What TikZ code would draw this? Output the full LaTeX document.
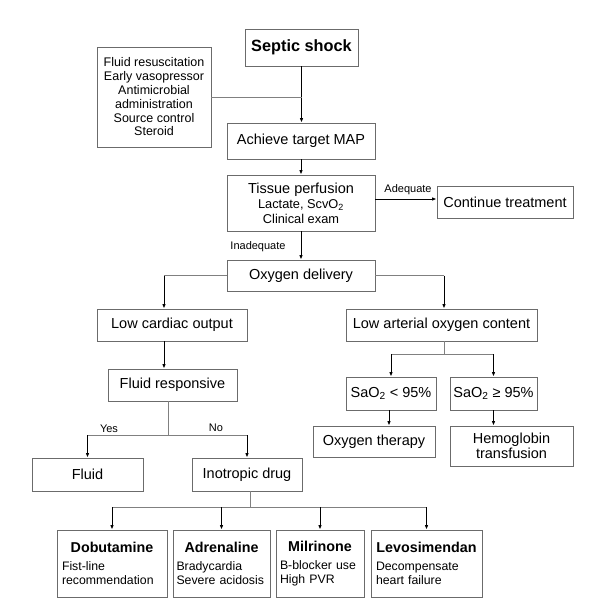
\documentclass[tikz,border=0pt]{standalone}
\usepackage{fontspec}
\setmainfont{Liberation Sans}
\usetikzlibrary{arrows.meta}
\definecolor{boxgray}{gray}{0.42}
\definecolor{linegray}{gray}{0.5}
\newcommand{\drugtitle}[1]{\hskip0pt plus 1fill{\fontsize{14.3}{16}\selectfont\bfseries #1}\hskip0pt plus 1fill\null}
\newcommand{\nohyph}{\hyphenpenalty=10000\relax\exhyphenpenalty=10000\relax}
\begin{document}
\begin{tikzpicture}[x=1pt,y=-1pt,
  box/.style={draw=boxgray, line width=0.9pt, inner sep=0pt, align=center,
    font=\fontsize{14.5}{16}\selectfont},
  drug/.style={draw=boxgray, line width=0.9pt, inner xsep=5pt, inner ysep=0pt,
    align=left, minimum height=67pt,
    font=\fontsize{12.3}{14.2}\selectfont\nohyph},
  arr/.style={line width=1pt, -{Latex[length=4.5pt,width=3.6pt]}},
  gline/.style={draw=linegray, line width=0.9pt},
  lab/.style={font=\fontsize{11}{13}\selectfont, inner sep=0pt}]
\useasboundingbox (0,0) rectangle (594,602);
\fill[white] (0,0) rectangle (594,602);

% nodes
\node[box, minimum width=113pt, minimum height=37pt, font=\fontsize{16.3}{18}\selectfont\bfseries]
  (septic) at (301.5,47.5) {Septic shock};
\node[box, minimum width=114pt, minimum height=100pt, font=\fontsize{12.5}{13.8}\selectfont]
  (list) at (154,97) {Fluid resuscitation\\Early vasopressor\\Antimicrobial\\administration\\Source control\\Steroid};
\node[box, minimum width=148pt, minimum height=36pt] (map) at (301,141) {Achieve target MAP};
\node[box, minimum width=148pt, minimum height=56pt] (tissue) at (301,203)
  {Tissue perfusion\\[-1pt]{\fontsize{12.8}{13.5}\selectfont Lactate, ScvO\textsubscript{2}}\\[-1pt]{\fontsize{12.8}{13.5}\selectfont Clinical exam}};
\node[box, minimum width=136pt, minimum height=32pt] (cont) at (505,202) {Continue treatment};
\node[box, minimum width=148pt, minimum height=31pt] (oxy) at (301,275.5) {Oxygen delivery};
\node[box, minimum width=150pt, minimum height=32pt] (lco) at (172,325) {Low cardiac output};
\node[box, minimum width=191pt, minimum height=32pt] (lac) at (441.5,325) {Low arterial oxygen content};
\node[box, minimum width=129pt, minimum height=32pt] (fr) at (172.5,385) {Fluid responsive};
\node[box, minimum width=90pt, minimum height=33pt] (sa1) at (391,393.5) {SaO\textsubscript{2} < 95\%};
\node[box, minimum width=87pt, minimum height=33pt] (sa2) at (493.5,393.5) {SaO\textsubscript{2} ≥ 95\%};
\node[box, minimum width=122pt, minimum height=31pt] (ot) at (374,441.5) {Oxygen therapy};
\node[box, minimum width=123pt, minimum height=40pt, font=\fontsize{14.5}{15.5}\selectfont]
  (hb) at (511.5,446) {Hemoglobin\\transfusion};
\node[box, minimum width=111pt, minimum height=33pt] (fluid) at (87.5,474.5) {Fluid};
\node[box, minimum width=110pt, minimum height=33pt] (ino) at (247,474.5) {Inotropic drug};

\node[drug, text width=100pt] (dob) at (112,563.5)
  {\drugtitle{Dobutamine}\\[3.5pt]Fist-line\\recommendation};
\node[drug, inner xsep=3.5pt, text width=90pt] (adr) at (221.5,563.5)
  {\drugtitle{Adrenaline}\\[3.5pt]Bradycardia\\Severe acidosis};
\node[drug, inner xsep=4pt, text width=80pt] (mil) at (320,563.5)
  {\drugtitle{Milrinone}\\[3.5pt]B-blocker use\\High PVR};
\node[drug, text width=101pt] (lev) at (426.5,563.5)
  {\drugtitle{Levosimendan}\\[3.5pt]Decompensate\\heart failure};

% labels
\node[lab] (adeq) at (408,190) {Adequate};
\node[lab] (inadeq) at (258,247) {Inadequate};
\node[lab] (yes) at (109,429) {Yes};
\node[lab] (no) at (216,428) {No};

% coordinates
\coordinate (frj) at ([xshift=-4.5pt,yshift=-34pt]fr.south);
\coordinate (inoj) at ([xshift=3pt,yshift=-16pt]ino.south);
\coordinate (lacj) at ([xshift=2.5pt,yshift=-13pt]lac.south);

% connectors
\draw[arr] (septic.south) -- (septic.south |- map.north);
\draw[gline] (list.east) -- (list.east -| septic.south);
\draw[arr] (map.south) -- (tissue.north);
\draw[arr] ([yshift=4pt]tissue.east) -- ([yshift=4pt]tissue.east -| cont.west);
\draw[arr] (tissue.south) -- (oxy.north);

\draw[gline] (oxy.west) -- (oxy.west -| lco.north) -- ([xshift=-8pt]oxy.west -| lco.north);
\draw[arr] ([xshift=-8pt]oxy.west -| lco.north) -- ([xshift=-8pt]lco.north);
\draw[gline] (oxy.east) -- ([xshift=2.5pt]oxy.east -| lac.north);
\draw[arr] ([xshift=2.5pt]oxy.east -| lac.north) -- ([xshift=2.5pt]lac.north);

\draw[arr] ([xshift=-8pt]lco.south) -- ([xshift=-8pt]lco.south |- fr.north);

\draw[gline] ([xshift=-4.5pt]fr.south) -- (frj);
\draw[gline] (frj -| fluid.north) -- (frj -| ino.north);
\draw[arr] (frj -| fluid.north) -- (fluid.north);
\draw[arr] (frj -| ino.north) -- (ino.north);

\draw[gline] ([xshift=3pt]ino.south) -- (inoj);
\draw[gline] (inoj -| dob.north) -- (inoj -| lev.north);
\draw[arr] (inoj -| dob.north) -- (dob.north);
\draw[arr] (inoj -| adr.north) -- (adr.north);
\draw[arr] (inoj -| mil.north) -- (mil.north);
\draw[arr] (inoj -| lev.north) -- (lev.north);

\draw[gline] ([xshift=2.5pt]lac.south) -- (lacj);
\draw[gline] (lacj -| sa1.north) -- (lacj -| sa2.north);
\draw[arr] (lacj -| sa1.north) -- (sa1.north);
\draw[arr] (lacj -| sa2.north) -- (sa2.north);

\draw[arr] ([xshift=-2pt]sa1.south) -- ([xshift=-2pt]sa1.south |- ot.north);
\draw[arr] (sa2.south) -- (sa2.south |- hb.north);
\end{tikzpicture}
\end{document}
